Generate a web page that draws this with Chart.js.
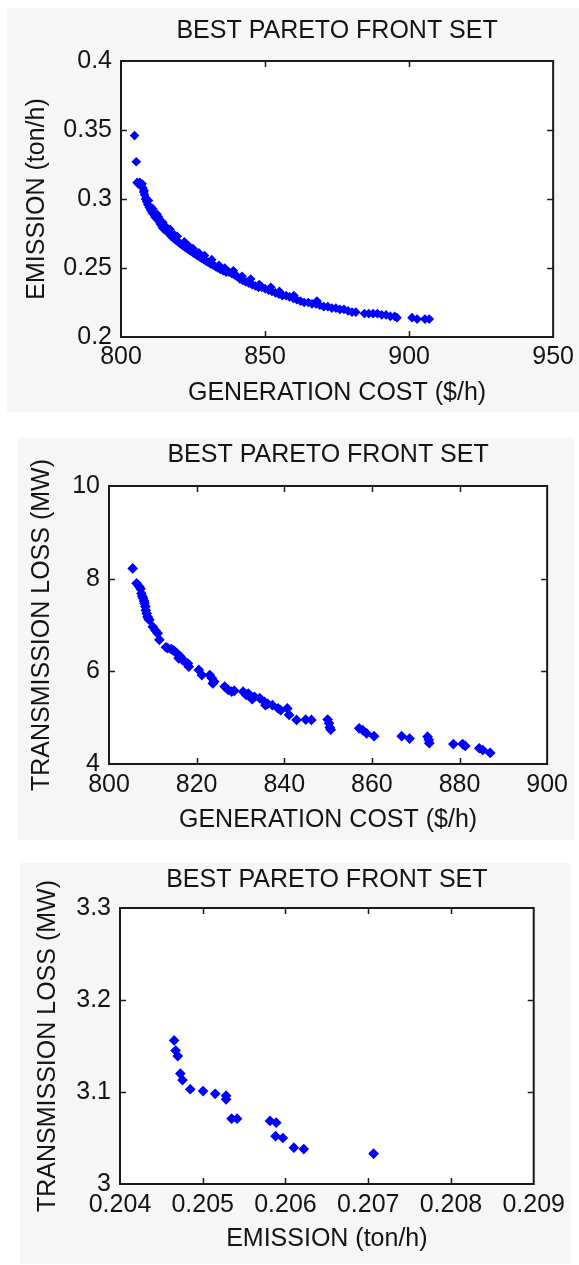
<!DOCTYPE html>
<html>
<head>
<meta charset="utf-8">
<script src="https://cdn.jsdelivr.net/npm/chart.js@4.4.1/dist/chart.umd.min.js"></script>
<style>
  html, body { margin: 0; padding: 0; background: #ffffff; }
  body { width: 579px; height: 1265px; position: relative; overflow: hidden; }
  .panel { position: absolute; background: #f6f6f6; }
  .panel canvas { display: block; }
</style>
</head>
<body>
<div class="panel" style="left:7px;top:8px;width:572px;height:404px;"><canvas id="c1" width="572" height="404"></canvas></div>
<div class="panel" style="left:18px;top:438px;width:556px;height:402px;"><canvas id="c2" width="556" height="402"></canvas></div>
<div class="panel" style="left:20px;top:863px;width:551px;height:401px;"><canvas id="c3" width="551" height="401"></canvas></div>
<script>
// ---------- DATA ----------
const chartTitle = 'BEST PARETO FRONT SET';

// Panel 1: generation cost vs emission
const cost1 = [
  804.7, 805.3, 805.6, 806.0, 806.5, 807.0, 807.3, 807.6, 807.9, 808.2,
  808.5, 808.9, 809.3, 809.8, 810.3, 810.8, 811.3, 811.8, 812.3, 812.8,
  813.2, 813.6, 814.0, 814.5, 815.0, 815.6, 816.2, 816.8, 817.4, 818.0,
  818.6, 819.2, 819.8, 820.4, 821.0, 821.6, 822.3, 823.0, 823.7, 824.4,
  825.1, 825.8, 826.5, 827.3, 828.0, 828.8, 829.5, 830.3, 831.1, 832.0,
  832.8, 833.6, 834.5, 835.5, 836.5, 837.5, 838.5, 839.4, 840.3, 841.3,
  842.3, 843.3, 844.4, 845.5, 846.6, 847.7, 848.9, 850.0, 851.2, 852.4,
  853.6, 854.8, 856.0, 857.3, 858.5, 859.8, 861.0, 862.3, 863.6, 865.0,
  866.3, 867.7, 869.0, 870.4, 871.8, 873.2, 874.6, 876.0, 877.4, 878.8,
  880.2, 881.5, 884.5, 886.0, 887.5, 889.0, 890.5, 892.0, 893.5, 895.0,
  895.8, 901.0, 902.8, 905.5, 907.0,
  808.0, 809.5, 811.0, 812.5, 814.5, 817.0, 819.5, 822.0, 825.0, 829.0,
  834.0, 839.0, 845.0, 852.0, 860.0, 868.0,
  813.0, 815.5, 818.5, 823.5, 827.0, 831.5, 836.0, 842.0, 848.0, 855.0
];
const emission1 = [
  0.346, 0.327, 0.312, 0.311, 0.312, 0.310, 0.311, 0.308, 0.305, 0.303,
  0.300, 0.298, 0.296, 0.294, 0.292, 0.290, 0.289, 0.287, 0.286, 0.285,
  0.284, 0.282, 0.281, 0.279, 0.278, 0.277, 0.276, 0.275, 0.273, 0.272,
  0.271, 0.270, 0.269, 0.268, 0.267, 0.266, 0.265, 0.264, 0.263, 0.262,
  0.261, 0.260, 0.259, 0.258, 0.257, 0.256, 0.255, 0.254, 0.253, 0.252,
  0.251, 0.250, 0.249, 0.248, 0.247, 0.247, 0.246, 0.245, 0.244, 0.242,
  0.241, 0.240, 0.239, 0.238, 0.237, 0.236, 0.236, 0.235, 0.234, 0.233,
  0.232, 0.231, 0.230, 0.230, 0.229, 0.228, 0.227, 0.226, 0.225, 0.225,
  0.224, 0.224, 0.223, 0.222, 0.222, 0.221, 0.221, 0.220, 0.220, 0.219,
  0.218, 0.218, 0.217, 0.217, 0.217, 0.217, 0.216, 0.216, 0.215, 0.215,
  0.214, 0.214, 0.213, 0.213, 0.213,
  0.306, 0.299, 0.293, 0.289, 0.283, 0.278, 0.273, 0.269, 0.264, 0.259,
  0.252, 0.248, 0.242, 0.236, 0.230, 0.226,
  0.287, 0.280, 0.274, 0.266, 0.261, 0.256, 0.250, 0.244, 0.238, 0.233
];
const xTicks1 = [800, 850, 900, 950];
const xTickLabels1 = ['800', '850', '900', '950'];
const yTicks1 = [0.2, 0.25, 0.3, 0.35, 0.4];
const yTickLabels1 = ['0.2', '0.25', '0.3', '0.35', '0.4'];

// Panel 2: generation cost vs transmission loss
const cost2 = [
  805.4, 806.3, 806.9, 807.2, 807.4, 807.6, 807.8, 808.0, 808.1, 808.3,
  808.4, 808.6, 808.8, 809.0, 809.2, 810.0, 810.6, 811.1, 811.5, 813.0,
  813.4, 814.2, 814.6, 815.0, 815.5, 815.9, 816.3, 816.8, 817.4, 818.0,
  818.2, 820.5, 821.2, 823.0, 823.5, 823.7, 824.0, 826.4, 827.2, 828.0,
  828.6, 830.6, 831.3, 831.8, 832.3, 832.7, 833.2, 834.4, 835.5, 835.7,
  836.2, 837.3, 838.6, 839.2, 840.7, 841.1, 842.8, 844.9, 846.2, 849.9,
  850.2, 850.4, 850.6, 857.1, 857.9, 858.8, 860.5, 866.8, 868.6, 872.7,
  873.0, 873.1, 878.6, 880.7, 881.3, 884.5, 885.3, 887.0
];
const loss2 = [
  8.22, 7.90, 7.83, 7.78, 7.68, 7.62, 7.58, 7.52, 7.47, 7.40,
  7.32, 7.25, 7.18, 7.14, 7.11, 6.96, 6.88, 6.82, 6.68, 6.52,
  6.50, 6.48, 6.46, 6.43, 6.39, 6.28, 6.32, 6.24, 6.20, 6.17,
  6.10, 6.03, 5.92, 5.92, 5.85, 5.74, 5.78, 5.67, 5.60, 5.56,
  5.58, 5.56, 5.49, 5.52, 5.45, 5.40, 5.45, 5.42, 5.34, 5.27,
  5.30, 5.27, 5.20, 5.16, 5.20, 5.06, 4.95, 4.96, 4.95, 4.96,
  4.88, 4.79, 4.74, 4.77, 4.73, 4.66, 4.60, 4.60, 4.55, 4.59,
  4.52, 4.45, 4.43, 4.43, 4.39, 4.34, 4.30, 4.24
];
const xTicks2 = [800, 820, 840, 860, 880, 900];
const xTickLabels2 = ['800', '820', '840', '860', '880', '900'];
const yTicks2 = [4, 6, 8, 10];
const yTickLabels2 = ['4', '6', '8', '10'];

// Panel 3: emission vs transmission loss
const emission3 = [
  0.204654, 0.204672, 0.204698, 0.204729, 0.204755, 0.204849, 0.205004, 0.205150, 0.205282, 0.205282,
  0.205349, 0.205415, 0.205813, 0.205888, 0.205880, 0.205968, 0.206101, 0.206221, 0.207065
];
const loss3 = [
  3.156, 3.145, 3.139, 3.120, 3.113, 3.103, 3.101, 3.098, 3.096, 3.092,
  3.071, 3.071, 3.0685, 3.0667, 3.052, 3.050, 3.0395, 3.038, 3.033
];
const xTicks3 = [0.204, 0.205, 0.206, 0.207, 0.208, 0.209];
const xTickLabels3 = ['0.204', '0.205', '0.206', '0.207', '0.208', '0.209'];
const yTicks3 = [3, 3.1, 3.2, 3.3];
const yTickLabels3 = ['3', '3.1', '3.2', '3.3'];

// ---------- RENDERING ----------
const FONT = "'Liberation Sans', Arial, Helvetica, sans-serif";
const TEXT = '#141414';
Chart.defaults.font.family = FONT;
Chart.defaults.font.size = 25;
Chart.defaults.color = TEXT;

const boxPlugin = {
  id: 'matlabBox',
  beforeDatasetsDraw(chart) {
    const { ctx, chartArea: a } = chart;
    ctx.save();
    ctx.fillStyle = '#ffffff';
    ctx.fillRect(a.left, a.top, a.right - a.left, a.bottom - a.top);
    ctx.restore();
  },
  afterDatasetsDraw(chart) {
    const { ctx, chartArea: a, scales } = chart;
    const x = scales.x, y = scales.y;
    const L = 6;
    ctx.save();
    ctx.strokeStyle = '#1a1a1a';
    ctx.lineWidth = 1.5;
    ctx.beginPath();
    x.ticks.forEach(t => {
      const px = Math.round(x.getPixelForValue(t.value)) + 0.5;
      if (px <= a.left + 2 || px >= a.right - 2) return;
      ctx.moveTo(px, a.bottom); ctx.lineTo(px, a.bottom - L);
      ctx.moveTo(px, a.top); ctx.lineTo(px, a.top + L);
    });
    y.ticks.forEach(t => {
      const py = Math.round(y.getPixelForValue(t.value)) + 0.5;
      if (py <= a.top + 2 || py >= a.bottom - 2) return;
      ctx.moveTo(a.left, py); ctx.lineTo(a.left + L, py);
      ctx.moveTo(a.right, py); ctx.lineTo(a.right - L, py);
    });
    ctx.stroke();
    ctx.lineWidth = 2;
    ctx.strokeRect(a.left, a.top, a.right - a.left, a.bottom - a.top);
    ctx.restore();
  }
};

function makeChart(id, cfg) {
  const pts = cfg.xs.map((v, i) => ({ x: v, y: cfg.ys[i] }));
  return new Chart(document.getElementById(id), {
    type: 'scatter',
    data: {
      datasets: [{
        data: pts,
        pointStyle: 'rectRot',
        pointRadius: cfg.r,
        pointHoverRadius: cfg.r,
        backgroundColor: '#0000ff',
        borderColor: '#0000ff',
        borderWidth: 1.5
      }]
    },
    options: {
      responsive: false,
      animation: false,
      events: [],
      layout: { padding: { left: 0, top: 0, right: cfg.padRight, bottom: 0 } },
      plugins: {
        legend: { display: false },
        tooltip: { enabled: false },
        title: {
          display: true,
          text: chartTitle,
          fullSize: false,
          color: TEXT,
          font: { size: 25, weight: 'normal', family: FONT, lineHeight: 1.2 },
          padding: { top: cfg.titleTop, bottom: cfg.titleBottom }
        }
      },
      scales: {
        x: {
          type: 'linear',
          position: 'bottom',
          min: cfg.xTicks[0],
          max: cfg.xTicks[cfg.xTicks.length - 1],
          grid: { display: false, drawTicks: false },
          border: { display: false },
          afterBuildTicks: s => { s.ticks = cfg.xTicks.map(v => ({ value: v })); },
          afterFit: s => { s.height = cfg.xAxisH; },
          ticks: {
            autoSkip: false, maxRotation: 0, padding: cfg.xTickPad, color: TEXT,
            callback: (v, i) => cfg.xLabels[i]
          },
          title: {
            display: true, text: cfg.xTitle, color: TEXT,
            font: { size: 25, family: FONT, lineHeight: 1.2 },
            padding: { top: 0, bottom: cfg.xTitleBottom }
          }
        },
        y: {
          type: 'linear',
          position: 'left',
          min: cfg.yTicks[0],
          max: cfg.yTicks[cfg.yTicks.length - 1],
          grid: { display: false, drawTicks: false },
          border: { display: false },
          afterBuildTicks: s => { s.ticks = cfg.yTicks.map(v => ({ value: v })); },
          afterFit: s => { s.width = cfg.yAxisW; },
          ticks: {
            autoSkip: false, padding: 9, color: TEXT,
            callback: (v, i) => cfg.yLabels[i]
          },
          title: {
            display: true, text: cfg.yTitle, color: TEXT,
            font: { size: 25, family: FONT, lineHeight: 1.2 },
            padding: { top: cfg.yTitleTop, bottom: 0 }
          }
        }
      }
    },
    plugins: [boxPlugin]
  });
}

makeChart('c1', {
  xs: cost1, ys: emission1, r: 3.8,
  xTicks: xTicks1, xLabels: xTickLabels1, yTicks: yTicks1, yLabels: yTickLabels1,
  xTitle: 'GENERATION COST ($/h)', yTitle: 'EMISSION (ton/h)',
  padRight: 23, titleTop: 8, titleBottom: 15, xAxisH: 75, xTickPad: 5, xTitleBottom: 4,
  yAxisW: 114, yTitleTop: 15
});
makeChart('c2', {
  xs: cost2, ys: loss2, r: 4.3,
  xTicks: xTicks2, xLabels: xTickLabels2, yTicks: yTicks2, yLabels: yTickLabels2,
  xTitle: 'GENERATION COST ($/h)', yTitle: 'TRANSMISSION LOSS (MW)',
  padRight: 26, titleTop: 2, titleBottom: 16, xAxisH: 76, xTickPad: 6, xTitleBottom: 5,
  yAxisW: 91, yTitleTop: 9
});
makeChart('c3', {
  xs: emission3, ys: loss3, r: 4.3,
  xTicks: xTicks3, xLabels: xTickLabels3, yTicks: yTicks3, yLabels: yTickLabels3,
  xTitle: 'EMISSION (ton/h)', yTitle: 'TRANSMISSION LOSS (MW)',
  padRight: 34, titleTop: 2, titleBottom: 13, xAxisH: 80, xTickPad: 6, xTitleBottom: 10,
  yAxisW: 100, yTitleTop: 13
});
</script>
</body>
</html>
